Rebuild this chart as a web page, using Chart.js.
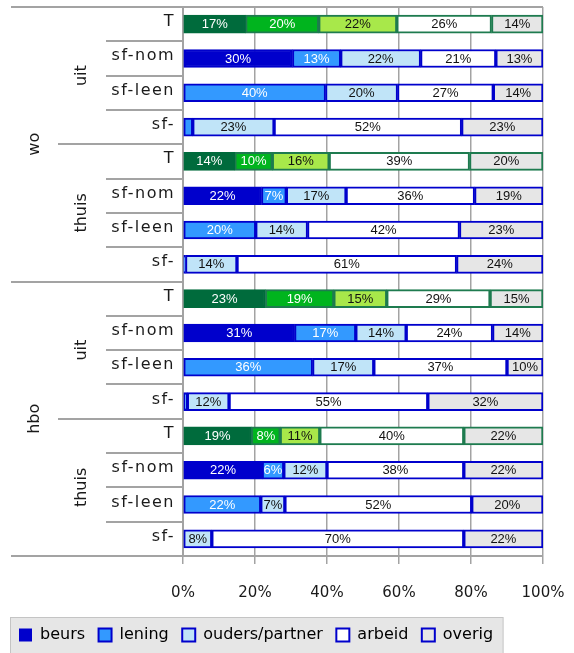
<!DOCTYPE html>
<html lang="nl">
<head>
<meta charset="utf-8">
<title>Inkomstenbronnen studenten</title>
<script src="https://cdn.jsdelivr.net/npm/chart.js@4.4.1/dist/chart.umd.min.js"></script>
<style>
  html, body { margin: 0; padding: 0; background: #fff; }
  #wrap { width: 574px; height: 653px; position: relative; }
</style>
</head>
<body>
<div id="wrap"><canvas id="grafiek"></canvas></div>
<script>
// rijen: opleiding -> woonsituatie -> type studiefinanciering
const niveaus = ['wo', 'hbo'];
const woonsituaties = ['uit', 'thuis'];
const typen = ['T', 'sf-nom', 'sf-leen', 'sf-'];

const bronnen = ['beurs', 'lening', 'ouders/partner', 'arbeid', 'overig'];

// aandeel per bron in %, volgorde: wo-uit, wo-thuis, hbo-uit, hbo-thuis (elk T, sf-nom, sf-leen, sf-)
const beurs  = [17.4, 30.4, 0, 0,    14.4, 21.8, 0, 0,    22.9, 31, 0, 0,    19, 22, 0, 0];
const lening = [20.3, 13.4, 39.6, 2.7, 10.4, 6.9, 20.2, 0.7, 19.0, 17, 36, 1.2, 8, 6, 21.6, 0];
const ouders = [21.7, 22.2, 20.0, 22.6, 15.8, 16.6, 14.4, 14.3, 14.7, 14, 17, 11.6, 11, 12, 6.7, 8];
const arbeid = [26.3, 20.9, 26.6, 52.1, 39.0, 35.7, 42.2, 61.0, 28.7, 24, 37, 55.2, 40, 38, 51.9, 70];
const overig = [14.3, 13.1, 13.8, 22.6, 20.4, 19.0, 23.2, 24.0, 14.7, 14, 10, 32.0, 22, 22, 19.8, 22];

const xTicks = [0, 20, 40, 60, 80, 100];

const reeksen = [beurs, lening, ouders, arbeid, overig];
const blauw = ['#0000cc', '#3399ff', '#c0e4f8', '#ffffff', '#e6e6e6'];
const groen = ['#006b3c', '#00b41e', '#a8e84a', '#ffffff', '#e6e6e6'];
const randBlauw = '#0000cc';
const randGroen = '#1e7b4f';

const rijen = [];
niveaus.forEach(n => woonsituaties.forEach(w => typen.forEach(t => rijen.push(t))));

function isTotaal(i) {
    return rijen[i] === 'T';
}

const datasets = reeksen.map((reeks, k) => ({
    label: bronnen[k],
    data: reeks,
    backgroundColor: ctx => isTotaal(ctx.dataIndex) ? groen[k] : blauw[k],
    borderColor: ctx => isTotaal(ctx.dataIndex) ? (k === 0 ? groen[0] : randGroen) : randBlauw,
    borderWidth: 2,
    borderSkipped: false,
    categoryPercentage: 1,
    barThickness: 18
}));

// legenda-achtergrond (grijs kader)
const legendaKader = {
    id: 'legendaKader',
    beforeDraw(chart) {
        const lg = chart.legend;
        if (!lg || !lg.legendHitBoxes.length) return;
        const hb = lg.legendHitBoxes;
        const last = hb[hb.length - 1];
        const ctx = chart.ctx;
        ctx.save();
        ctx.fillStyle = '#e6e6e6';
        ctx.strokeStyle = '#c4c4c4';
        ctx.lineWidth = 1;
        const x0 = 10.5, y0 = 617.5;
        const w = last.left + last.width + 10 - x0;
        ctx.fillRect(x0, y0, w, chart.height);
        ctx.strokeRect(x0, y0, w, chart.height);
        ctx.restore();
    }
};

// rijlabels, groepslabels en scheidingslijnen links
const groepen = {
    id: 'groepen',
    beforeDatasetsDraw(chart) {
        const {ctx, chartArea} = chart;
        const y = chart.scales.y;
        ctx.save();
        ctx.strokeStyle = '#a3a3a3';
        ctx.lineWidth = 2;
        const lijn = (x1, y1, x2, y2) => {
            ctx.beginPath();
            ctx.moveTo(x1, y1);
            ctx.lineTo(x2, y2);
            ctx.stroke();
        };
        lijn(11, chartArea.top, chartArea.right, chartArea.top);
        lijn(11, chartArea.bottom, chartArea.left, chartArea.bottom);
        for (let i = 1; i < rijen.length; i++) {
            const yy = Math.round((y.getPixelForValue(i - 1) + y.getPixelForValue(i)) / 2);
            const x0 = i % 8 === 0 ? 11 : (i % 4 === 0 ? 58 : 106);
            lijn(x0, yy, chartArea.left, yy);
        }

        ctx.fillStyle = '#1a1a1a';
        ctx.font = '16px "DejaVu Sans"';
        ctx.letterSpacing = '1.5px';
        ctx.textAlign = 'right';
        ctx.textBaseline = 'alphabetic';
        rijen.forEach((t, i) => {
            ctx.fillText(t, chartArea.left - 8, y.getPixelForValue(i) + 2);
        });

        ctx.letterSpacing = '0px';
        ctx.textAlign = 'center';
        const gedraaid = (tekst, x, yc) => {
            ctx.save();
            ctx.translate(x, yc);
            ctx.rotate(-Math.PI / 2);
            ctx.fillText(tekst, 0, 0);
            ctx.restore();
        };
        niveaus.forEach((n, ni) => {
            const a = ni * 8;
            gedraaid(n, 39, (y.getPixelForValue(a) + y.getPixelForValue(a + 7)) / 2);
            woonsituaties.forEach((w, wi) => {
                const b = a + wi * 4;
                gedraaid(w, 86, (y.getPixelForValue(b) + y.getPixelForValue(b + 3)) / 2);
            });
        });
        ctx.restore();
    }
};

// percentages in de staafdelen
const waarden = {
    id: 'waarden',
    afterDatasetsDraw(chart) {
        const ctx = chart.ctx;
        ctx.save();
        ctx.font = '13px "Liberation Sans"';
        ctx.textAlign = 'center';
        ctx.textBaseline = 'middle';
        chart.data.datasets.forEach((ds, di) => {
            const meta = chart.getDatasetMeta(di);
            meta.data.forEach((bar, i) => {
                const v = ds.data[i];
                if (v < 5) return;
                const p = bar.getProps(['x', 'y', 'base'], true);
                ctx.fillStyle = di < 2 ? '#ffffff' : '#111111';
                ctx.fillText(Math.round(v) + '%', (p.x + p.base) / 2, p.y + 0.5);
            });
        });
        ctx.restore();
    }
};

new Chart(document.getElementById('grafiek'), {
    type: 'bar',
    data: { labels: rijen, datasets: datasets },
    plugins: [legendaKader, groepen, waarden],
    options: {
        indexAxis: 'y',
        responsive: true,
        maintainAspectRatio: false,
        animation: false,
        layout: { padding: { left: 5.5, right: 31, top: 7, bottom: 0 } },
        scales: {
            x: {
                stacked: true,
                min: 0,
                max: 100,
                afterBuildTicks: s => { s.ticks = xTicks.map(v => ({ value: v })); },
                afterFit: s => {
                    s.height = 57.5;
                    s.paddingLeft = 0;
                    s.paddingRight = 0;
                },
                grid: { color: '#a3a3a3', lineWidth: 1.5, tickLength: 8 },
                border: { color: '#a3a3a3', width: 2 },
                ticks: {
                    callback: v => v + '%',
                    color: '#1a1a1a',
                    font: { family: 'DejaVu Sans', size: 15 },
                    padding: 20,
                    maxRotation: 0
                }
            },
            y: {
                stacked: true,
                afterFit: s => { s.width = 177.5; },
                grid: { display: false },
                border: { color: '#a3a3a3', width: 2 },
                ticks: { display: false }
            }
        },
        plugins: {
            tooltip: { enabled: false },
            legend: {
                position: 'bottom',
                align: 'start',
                labels: {
                    boxWidth: 13,
                    boxHeight: 13,
                    padding: 13.5,
                    color: '#1a1a1a',
                    font: { family: 'DejaVu Sans', size: 16 },
                    generateLabels: () => bronnen.map((b, i) => ({
                        text: b,
                        fillStyle: blauw[i],
                        strokeStyle: randBlauw,
                        lineWidth: i === 0 ? 0 : 2,
                        hidden: false,
                        datasetIndex: i
                    }))
                }
            }
        }
    }
});
</script>
</body>
</html>
